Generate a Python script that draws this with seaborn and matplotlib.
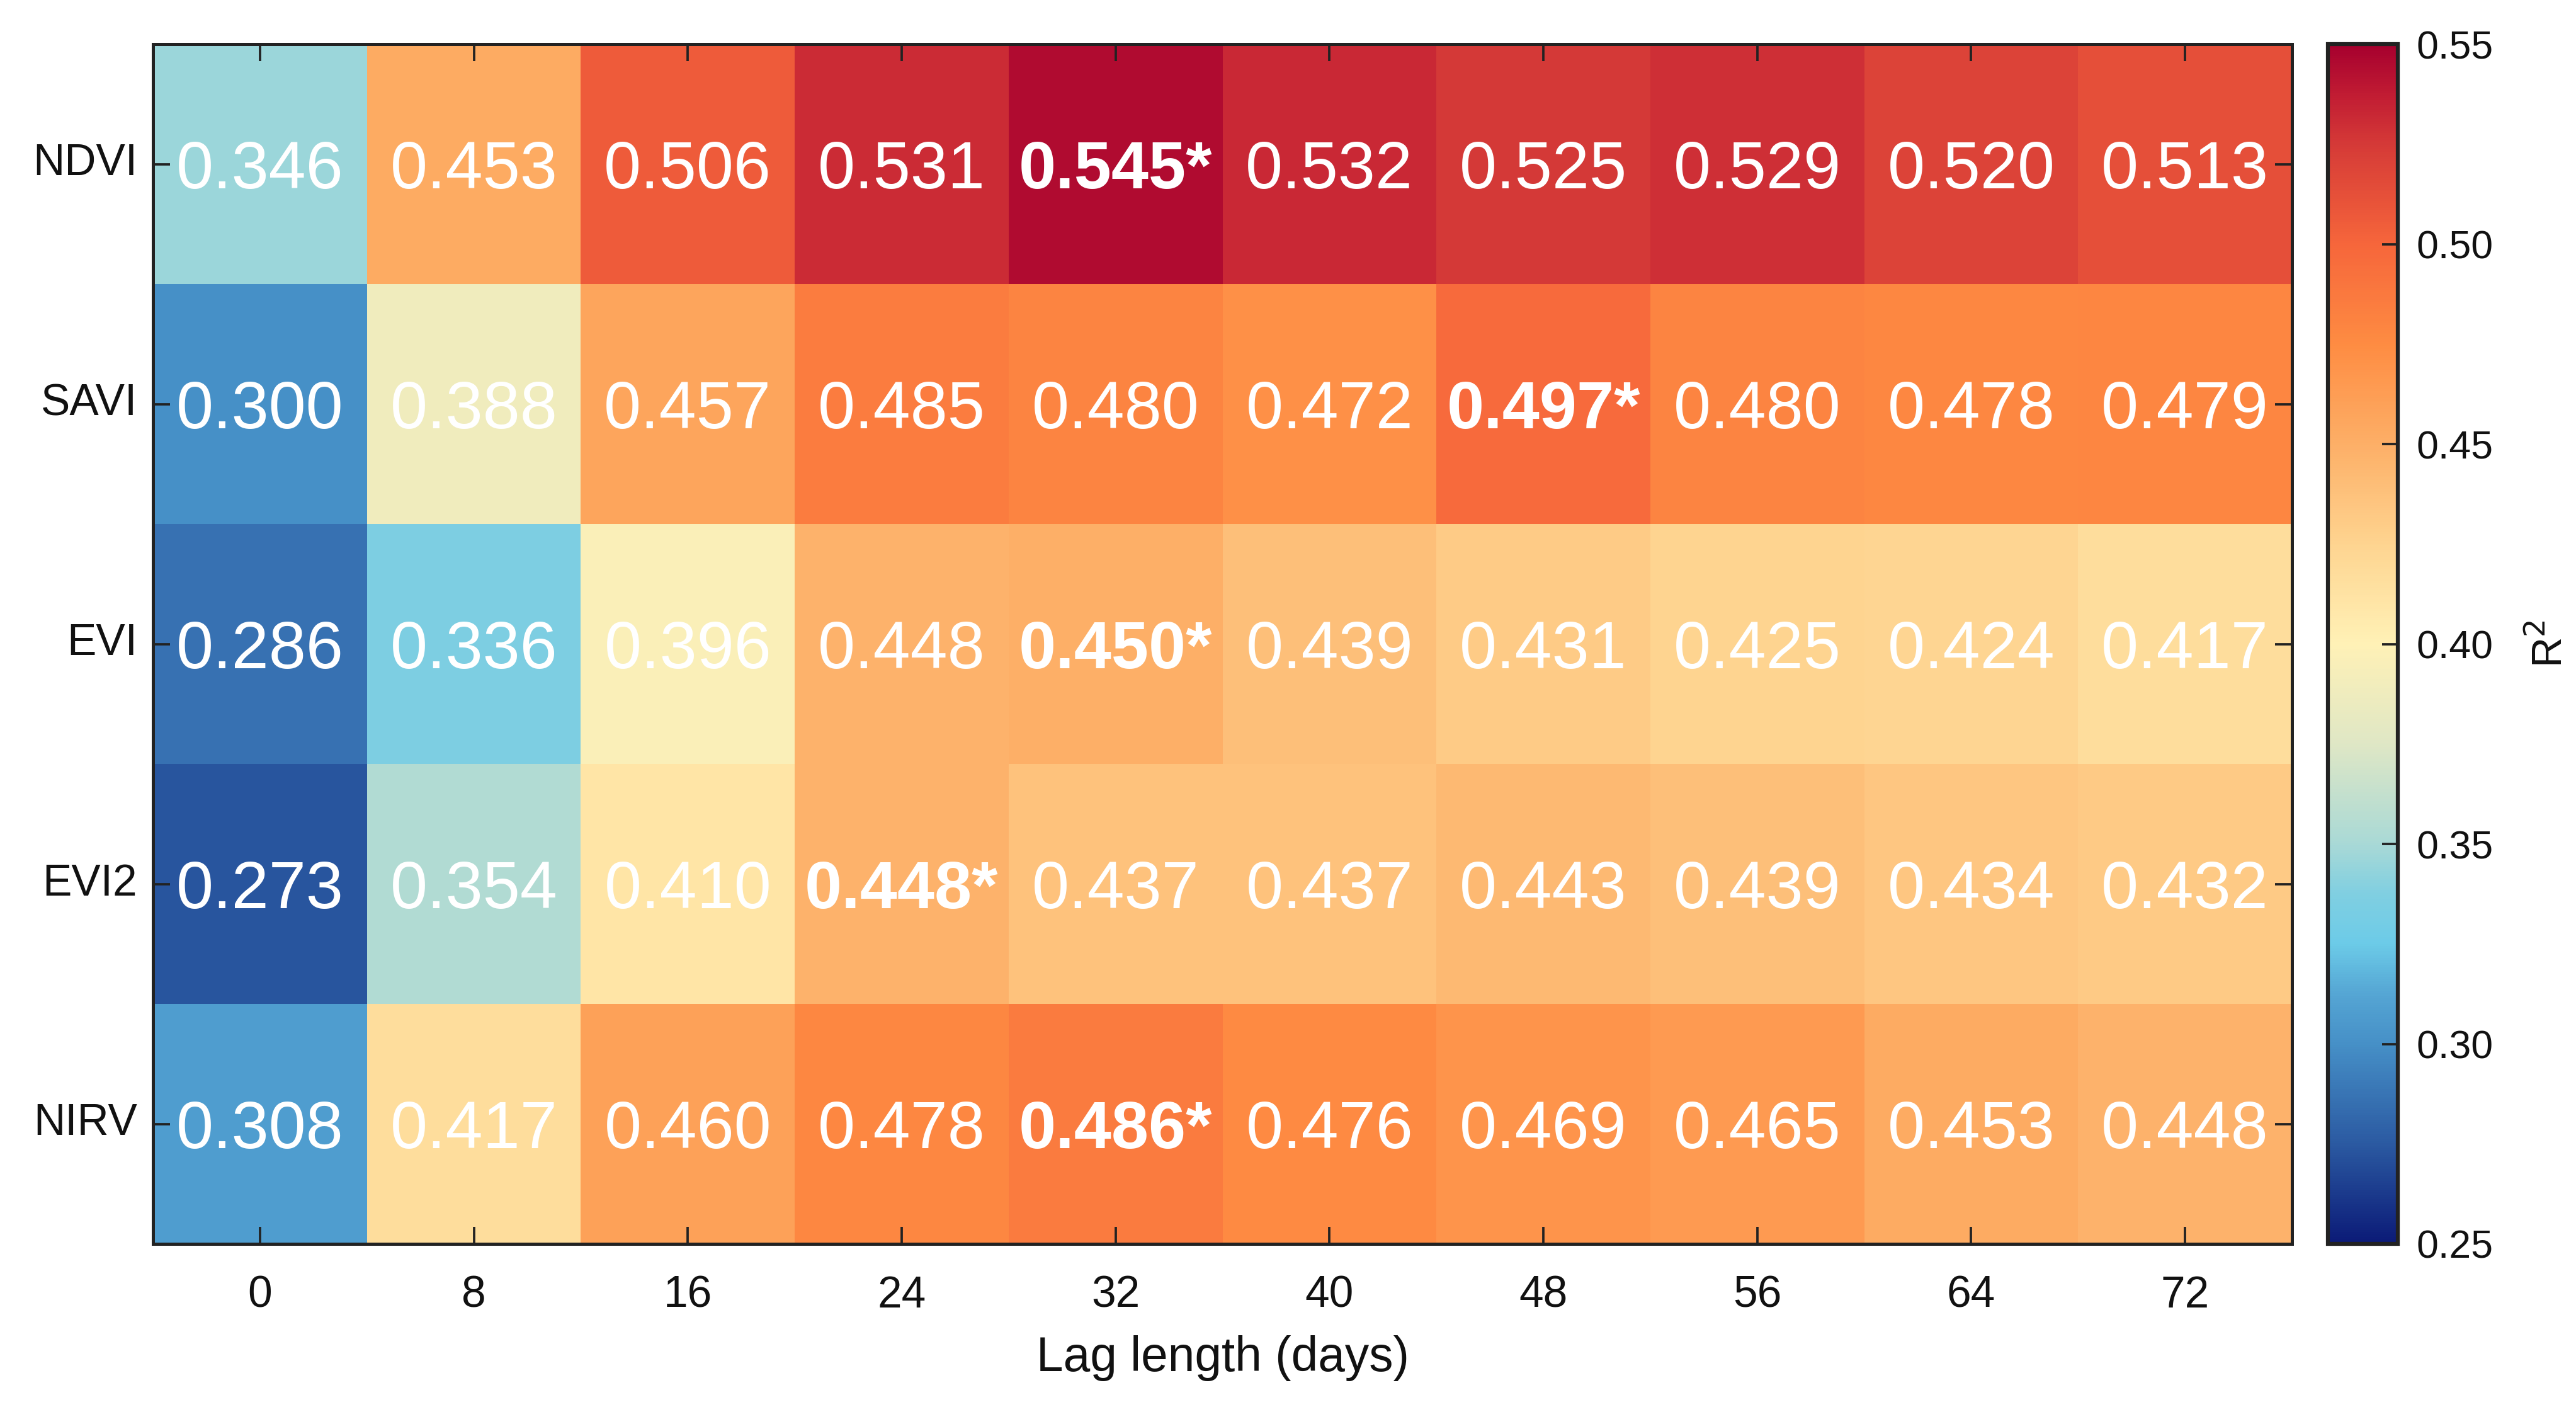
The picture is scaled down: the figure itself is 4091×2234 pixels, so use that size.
import numpy as np
import pandas as pd
import matplotlib
matplotlib.use("Agg")
import matplotlib.pyplot as plt
from matplotlib.colors import LinearSegmentedColormap
import seaborn as sns

# ---------------- data ----------------
indices = ["NDVI", "SAVI", "EVI", "EVI2", "NIRV"]
lags = [0, 8, 16, 24, 32, 40, 48, 56, 64, 72]
ndvi = [0.346, 0.453, 0.506, 0.531, 0.545, 0.532, 0.525, 0.529, 0.520, 0.513]
savi = [0.300, 0.388, 0.457, 0.485, 0.480, 0.472, 0.497, 0.480, 0.478, 0.479]
evi = [0.286, 0.336, 0.396, 0.448, 0.450, 0.439, 0.431, 0.425, 0.424, 0.417]
evi2 = [0.273, 0.354, 0.410, 0.448, 0.437, 0.437, 0.443, 0.439, 0.434, 0.432]
nirv = [0.308, 0.417, 0.460, 0.478, 0.486, 0.476, 0.469, 0.465, 0.453, 0.448]
cbar_ticks = [0.25, 0.30, 0.35, 0.40, 0.45, 0.50, 0.55]

df = pd.DataFrame([ndvi, savi, evi, evi2, nirv], index=indices, columns=lags)

# ---------------- colormap ----------------
cm_nodes = [
    (0.25, "#0b1a77"), (0.275, "#2b5aa2"), (0.30, "#4690c7"),
    (0.3125, "#55a6d4"), (0.325, "#6ccbe8"), (0.3375, "#80cfe1"),
    (0.35, "#a9d9d6"), (0.375, "#dfe7c5"), (0.40, "#fff1b6"),
    (0.425, "#fed490"), (0.45, "#fdaf67"), (0.475, "#fe8c42"),
    (0.50, "#f6663b"), (0.525, "#d53a37"), (0.5375, "#c11c33"),
    (0.55, "#a6002e"),
]
vmin, vmax = 0.25, 0.55
cmap = LinearSegmentedColormap.from_list(
    "custom", [((v - vmin) / (vmax - vmin), c) for v, c in cm_nodes], N=512)

# ---------------- figure ----------------
sns.set_theme(style="white")
plt.rcParams["font.family"] = ["Liberation Sans", "DejaVu Sans"]

W, H, DPI = 4091, 2234, 300
fig = plt.figure(figsize=(W / DPI, H / DPI), dpi=DPI)
ax = fig.add_axes([243 / W, 1 - 1975 / H, (3640 - 243) / W, (1975 - 70) / H])
cax = fig.add_axes([3697 / W, 1 - 1975 / H, (3808 - 3697) / W, (1975 - 70) / H])

vals = df.values
row_max = vals.argmax(axis=1)
annot = np.empty(vals.shape, dtype=object)
for i in range(vals.shape[0]):
    for j in range(vals.shape[1]):
        s = f"{vals[i, j]:.3f}"
        if j == row_max[i]:
            s += "*"
        annot[i, j] = s

sns.heatmap(df, ax=ax, cbar_ax=cax, cmap=cmap, vmin=vmin, vmax=vmax,
            annot=annot, fmt="",
            annot_kws={"color": "white", "fontsize": 25.5},
            cbar_kws={"ticks": cbar_ticks})

for t in ax.texts:
    t.set_va("center_baseline")
    if t.get_text().endswith("*"):
        t.set_fontweight("bold")

# axes frame and ticks
ax.set_axisbelow(False)
for sp in ax.spines.values():
    sp.set_visible(True)
    sp.set_color("#222222")
    sp.set_linewidth(1.2)
ax.tick_params(axis="both", which="major", direction="in", length=6.5,
               width=0.9, color="#222222", top=True, right=True,
               bottom=True, left=True, labelsize=16.7, labelcolor="#111111")
ax.tick_params(axis="x", pad=12)
ax.tick_params(axis="y", pad=6)
ax.set_xticklabels([str(l) for l in lags], rotation=0)
ax.set_yticklabels(indices, rotation=0)
ax.set_xlabel("Lag length (days)", fontsize=18.4, color="#111111", labelpad=7)
ax.set_ylabel("")

# colorbar
cbar = ax.collections[0].colorbar
cax.set_axisbelow(False)
cbar.outline.set_visible(True)
cbar.outline.set_edgecolor("#222222")
cbar.outline.set_linewidth(1.5)
cax.tick_params(direction="in", length=6, width=0.9, color="#222222",
                labelsize=15, pad=7, labelcolor="#111111", right=True)
cbar.set_ticklabels([f"{t:.2f}" for t in cbar_ticks])
cbar.set_label("R$^2$", fontsize=16, color="#111111", labelpad=14)

fig.savefig("out.png", dpi=DPI, facecolor="white")
